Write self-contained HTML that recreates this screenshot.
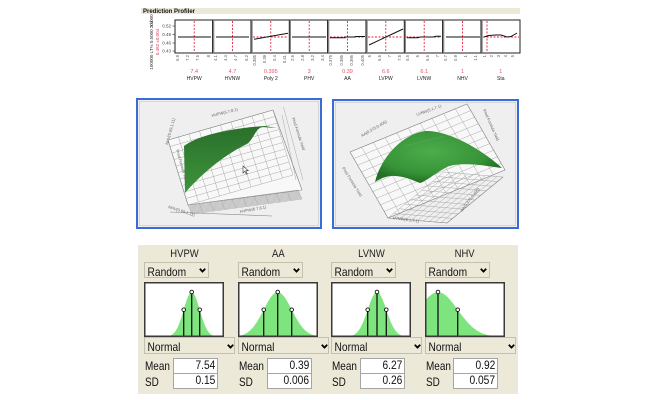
<!DOCTYPE html>
<html><head><meta charset="utf-8">
<style>
body{margin:0;width:668px;height:400px;background:#fff;position:relative;overflow:hidden;font-family:"Liberation Sans",Arial,sans-serif;}
.abs{position:absolute}
.panel{left:138px;top:245px;width:380px;height:149px;background:#ece9d8}
.name{width:80px;text-align:center;top:248px;font-size:11px;color:#222;height:13px;line-height:13px}
.name span{display:inline-block;transform:scaleX(.86)}
.dd{box-sizing:border-box;border:1px solid #c4c0ae;background:#ece9d8;height:16px}
.t{display:inline-block;transform:scaleX(.85);transform-origin:left center;font-size:12px;line-height:14px;color:#111;padding-left:3px}
.chev{position:absolute;top:5px}
.lab{font-size:12px;line-height:14px;color:#111}
.lab span{display:inline-block;transform:scaleX(.83);transform-origin:left center}
.box{box-sizing:border-box;border:1px solid #a5a5a5;background:#fff;width:45px;text-align:right;font-size:12px;line-height:13px;color:#111;padding-right:2px}
.box span{display:inline-block;transform:scaleX(.85);transform-origin:right center}
</style></head>
<body>

<svg class="abs" style="left:0;top:0" width="668" height="240" viewBox="0 0 668 240">
  <defs>
    <path id="gr" d="M0 0V10M1 0V10M2 0V10M3 0V10M4 0V10M5 0V10M6 0V10M7 0V10M8 0V10M9 0V10M10 0V10M0 0H10M0 1H10M0 2H10M0 3H10M0 4H10M0 5H10M0 6H10M0 7H10M0 8H10M0 9H10M0 10H10" fill="none" stroke="#a8a8a8" stroke-width="0.5" vector-effect="non-scaling-stroke"/>
    <linearGradient id="lg" x1="0" y1="0" x2="0" y2="1">
      <stop offset="0" stop-color="#2a6f2a"/><stop offset="1" stop-color="#3d953d"/>
    </linearGradient>
    <radialGradient id="rg" cx="0.45" cy="0.4" r="0.6">
      <stop offset="0" stop-color="#4cad4c"/><stop offset="0.7" stop-color="#379337"/><stop offset="1" stop-color="#236f23"/>
    </radialGradient>
  </defs>

  <!-- Prediction profiler -->
  <rect x="141" y="8" width="379" height="6" fill="#ece9d8"/>
  <text x="143" y="13" font-size="6" font-weight="bold" fill="#111">Prediction Profiler</text>

  <text transform="translate(153,42) rotate(-90)" text-anchor="middle" font-size="4.5" fill="#333">100000 LT% 0.5000 20.000</text>
  <text transform="translate(153,24) rotate(-90)" text-anchor="middle" font-size="4.5" fill="#333">Yld</text>
  <text transform="translate(159,42) rotate(-90)" text-anchor="middle" font-size="4.5" fill="#e0405a">0.482 ±0.004</text>
  <g font-size="4.5" fill="#444" text-anchor="end">
    <text x="171" y="27.5">0.52</text><text x="171" y="36">0.49</text><text x="171" y="44.5">0.46</text><text x="171" y="52.5">0.43</text>
  </g>
  <g stroke="#333" stroke-width="0.6">
    <line x1="172.5" y1="26" x2="175" y2="26"/><line x1="172.5" y1="34.5" x2="175" y2="34.5"/><line x1="172.5" y1="43" x2="175" y2="43"/><line x1="172.5" y1="51" x2="175" y2="51"/>
  </g>

  <rect x="175" y="20" width="345" height="33" fill="#fff" stroke="#222" stroke-width="1"/>
  <g stroke="#888" stroke-width="2">
    <line x1="213.3" y1="20" x2="213.3" y2="53"/><line x1="251.7" y1="20" x2="251.7" y2="53"/>
    <line x1="290" y1="20" x2="290" y2="53"/><line x1="328.3" y1="20" x2="328.3" y2="53"/>
    <line x1="366.7" y1="20" x2="366.7" y2="53"/><line x1="405" y1="20" x2="405" y2="53"/>
    <line x1="443.3" y1="20" x2="443.3" y2="53"/><line x1="481.7" y1="20" x2="481.7" y2="53"/>
  </g>
  <g stroke="#111" stroke-width="0.8">
    <line x1="212.5" y1="20" x2="212.5" y2="53"/><line x1="250.9" y1="20" x2="250.9" y2="53"/>
    <line x1="289.2" y1="20" x2="289.2" y2="53"/><line x1="327.5" y1="20" x2="327.5" y2="53"/>
    <line x1="365.9" y1="20" x2="365.9" y2="53"/><line x1="404.2" y1="20" x2="404.2" y2="53"/>
    <line x1="442.5" y1="20" x2="442.5" y2="53"/><line x1="480.9" y1="20" x2="480.9" y2="53"/>
  </g>
  <!-- red dashed -->
  <g stroke="#e8203a" stroke-width="0.9" stroke-dasharray="2,1.5" fill="none">
    <line x1="194.2" y1="21" x2="194.2" y2="52"/><line x1="232.5" y1="21" x2="232.5" y2="52"/>
    <line x1="270.8" y1="21" x2="270.8" y2="52"/><line x1="309.2" y1="21" x2="309.2" y2="52"/>
    <line x1="347.5" y1="21" x2="347.5" y2="52"/><line x1="385.8" y1="21" x2="385.8" y2="52"/>
    <line x1="424.2" y1="21" x2="424.2" y2="52"/><line x1="462.5" y1="21" x2="462.5" y2="52"/>
    <line x1="487" y1="21" x2="487" y2="52"/>
    <line x1="253" y1="37" x2="288" y2="37"/><line x1="330" y1="37" x2="365" y2="37"/>
    <line x1="368" y1="37" x2="403" y2="37"/><line x1="406" y1="37" x2="441" y2="37"/>
    <line x1="483" y1="37" x2="519" y2="37"/>
  </g>
  <!-- black lines -->
  <g stroke="#111" stroke-width="1" fill="none">
    <line x1="178" y1="37" x2="211" y2="37"/>
    <line x1="216" y1="37" x2="249" y2="37"/>
    <line x1="254" y1="39.3" x2="288" y2="33.3"/>
    <line x1="292" y1="37" x2="326" y2="37"/>
    <polyline points="330,37.7 345,37.7 345,37 354,37 356,36.5 365,36.5"/>
    <line x1="369" y1="45" x2="403" y2="29"/>
    <polyline points="407,37.7 418,37.7 420,37 433,37 436,36.3 441,36.3"/>
    <line x1="446" y1="37" x2="480" y2="37"/>
    <polyline points="484,37 489,35.5 496,35 501,35 507,37 511,36.5 517,33"/>
  </g>
  <!-- tick labels -->
  <g font-size="4.2" fill="#555" text-anchor="end">
    <text transform="translate(179,55) rotate(-90)">6.9</text><text transform="translate(189,55) rotate(-90)">7.2</text><text transform="translate(199,55) rotate(-90)">7.5</text><text transform="translate(210,55) rotate(-90)">8</text>
    <text transform="translate(217,55) rotate(-90)">4.1</text><text transform="translate(227,55) rotate(-90)">4.4</text><text transform="translate(237,55) rotate(-90)">4.7</text><text transform="translate(248,55) rotate(-90)">5.2</text>
    <text transform="translate(256,55) rotate(-90)">0.385</text><text transform="translate(266,55) rotate(-90)">0.39</text><text transform="translate(276,55) rotate(-90)">0.4</text><text transform="translate(286,55) rotate(-90)">0.41</text>
    <text transform="translate(294,55) rotate(-90)">2.6</text><text transform="translate(304,55) rotate(-90)">2.8</text><text transform="translate(314,55) rotate(-90)">3.2</text><text transform="translate(324,55) rotate(-90)">3.4</text>
    <text transform="translate(332,55) rotate(-90)">0.375</text><text transform="translate(343,55) rotate(-90)">0.385</text><text transform="translate(353,55) rotate(-90)">0.395</text><text transform="translate(364,55) rotate(-90)">0.405</text>
    <text transform="translate(371,55) rotate(-90)">6</text><text transform="translate(381,55) rotate(-90)">6.5</text><text transform="translate(391,55) rotate(-90)">7</text><text transform="translate(401,55) rotate(-90)">7.5</text>
    <text transform="translate(409,55) rotate(-90)">5.5</text><text transform="translate(419,55) rotate(-90)">6</text><text transform="translate(429,55) rotate(-90)">6.5</text><text transform="translate(439,55) rotate(-90)">7</text>
    <text transform="translate(447,55) rotate(-90)">0.7</text><text transform="translate(457,55) rotate(-90)">0.9</text><text transform="translate(467,55) rotate(-90)">1</text><text transform="translate(477,55) rotate(-90)">1.1</text>
    <text transform="translate(486,55) rotate(-90)">1</text><text transform="translate(493,55) rotate(-90)">2</text><text transform="translate(500,55) rotate(-90)">3</text><text transform="translate(507,55) rotate(-90)">4</text><text transform="translate(514,55) rotate(-90)">5</text>
  </g>
  <g font-size="5.5" fill="#e8506a" text-anchor="middle">
    <text x="194.2" y="73">7.4</text><text x="232.5" y="73">4.7</text><text x="270.8" y="73">0.395</text><text x="309.2" y="73">3</text><text x="347.5" y="73">0.39</text><text x="385.8" y="73">6.6</text><text x="424.2" y="73">6.1</text><text x="462.5" y="73">1</text><text x="500.8" y="73">1</text>
  </g>
  <g font-size="5" fill="#222" text-anchor="middle">
    <text x="194.2" y="80">HVPW</text><text x="232.5" y="80">HVNW</text><text x="270.8" y="80">Poly 2</text><text x="309.2" y="80">PHV</text><text x="347.5" y="80">AA</text><text x="385.8" y="80">LVPW</text><text x="424.2" y="80">LVNW</text><text x="462.5" y="80">NHV</text><text x="500.8" y="80">Sta</text>
  </g>

  <!-- Left 3D plot -->
  <rect x="137" y="99" width="184" height="129" fill="#efefef" stroke="#3a6cd6" stroke-width="2"/>
  <rect x="139.5" y="101.5" width="179" height="124" fill="none" stroke="#d6d6d6" stroke-width="1"/>
  <polygon points="168,140 273,110 302,190 188,205" fill="#f8f8f8"/>
  <use href="#gr" transform="matrix(10.5,-3,2,6.5,168,140)"/>
  <use href="#gr" transform="matrix(11,-1.5,0.4,0.9,188,205)"/>
  <g stroke="#a8a8a8" stroke-width="0.5" fill="none">
    <line x1="283.5" y1="107" x2="303" y2="180"/>
    <line x1="273" y1="110" x2="302" y2="190"/>
    <line x1="282" y1="115" x2="296" y2="180"/>
  </g>
  <g stroke="#888" stroke-width="0.6" fill="none">
    <line x1="168" y1="140" x2="273" y2="110"/>
    <line x1="273" y1="110" x2="302" y2="190"/>
    <line x1="188" y1="205" x2="302" y2="190"/>
    <line x1="168" y1="140" x2="188" y2="205"/>
    <line x1="170" y1="212" x2="272" y2="216"/>
  </g>
  <path d="M184,146 C200,134 235,128 265,126 L277,128 L262,127 C255,129 254,139 247,144 C228,153 205,170 185,193 Z" fill="url(#lg)"/>
  <g font-size="4" fill="#666">
    <text transform="translate(212,117) rotate(-14)">HVPW(6.7,8.1)</text>
    <text transform="translate(168,145) rotate(-75)">NHV(0.69,1.11)</text>
    <text transform="translate(176,150) rotate(74)">Pred Formula Yield</text>
    <text transform="translate(292,118) rotate(72)">Pred Formula Yield</text>
    <text transform="translate(168,208) rotate(18)">NHV(0.69,1.11)</text>
    <text transform="translate(240,213) rotate(-10)">HVPW(6.7,8.1)</text>
  </g>
  <path d="M243,166 l0,7 l1.8,-1.8 l1.5,3 l1,-0.5 l-1.5,-3 l2.5,0 z" fill="#fff" stroke="#333" stroke-width="0.6"/>

  <!-- Right 3D plot -->
  <rect x="333" y="100" width="185" height="128" fill="#efefef" stroke="#3a6cd6" stroke-width="2"/>
  <rect x="335.5" y="102.5" width="180" height="123" fill="none" stroke="#d6d6d6" stroke-width="1"/>
  <polygon points="350,152 467,104 505,170 388,218" fill="#f8f8f8"/>
  <use href="#gr" transform="matrix(11.7,-4.8,3.8,6.6,350,152)"/>
  <use href="#gr" transform="matrix(5.9,0.5,5.6,-4.6,388,218)"/>
  <g stroke="#888" stroke-width="0.6" fill="none">
    <polygon points="350,152 467,104 505,170 388,218"/>
    <line x1="388" y1="218" x2="447" y2="223"/>
    <line x1="447" y1="223" x2="503" y2="177"/>
  </g>
  <path d="M375,182 C380,160 400,135 425,131 C450,130 485,152 502,168 L487,166 C475,164 455,163 447,167 C437,172 425,182 420,183 C412,180 402,175 390,176 C383,177 378,180 375,182 Z" fill="url(#rg)"/>
  <line x1="405" y1="146" x2="445" y2="136" stroke="#7a9a7a" stroke-width="0.4"/>
  <g font-size="4" fill="#666">
    <text transform="translate(417,116) rotate(-20)">LVNW(5.1,7.1)</text>
    <text transform="translate(362,137) rotate(-30)">AA(0.375,0.405)</text>
    <text transform="translate(342,168) rotate(58)">Pred Formula Yield</text>
    <text transform="translate(483,110) rotate(66)">Pred Formula Yield</text>
    <text transform="translate(393,219) rotate(8)">LVNW(5.1,7.1)</text>
    <text transform="translate(462,212) rotate(-52)">AA(0.375,0.405)</text>
  </g>
</svg>

<!-- Bottom panel -->
<div class="abs panel"></div>

<!-- HVPW -->
<div class="abs name" style="left:144px"><span>HVPW</span></div>
<div class="abs dd" style="left:144px;top:262px;width:65px"><span class="t">Random</span><svg class="chev" style="left:54px" width="7" height="5"><polyline points="0.8,0.8 3.5,3.6 6.2,0.8" fill="none" stroke="#000" stroke-width="1.8"/></svg></div>
<svg class="abs" style="left:144px;top:282px" width="80" height="55">
  <rect x="0" y="0" width="80" height="55" fill="#fff"/>
  <polygon transform="translate(47.7,0) scale(8,1)" fill="#7ee47e" points="-3.5,55 -3,54.5 -2.5,53 -2.25,51.4 -2,48.9 -1.75,45.3 -1.5,40.4 -1.25,34.4 -1,27.7 -0.75,21 -0.5,15.3 -0.25,11.4 0,10 0.25,11.4 0.5,15.3 0.75,21 1,27.7 1.25,34.4 1.5,40.4 1.75,45.3 2,48.9 2.25,51.4 2.5,53 3,54.5 3.5,55"/>
  <g stroke="#111" stroke-width="1.3"><line x1="47.7" y1="10" x2="47.7" y2="55"/><line x1="39.7" y1="27.7" x2="39.7" y2="55"/><line x1="55.7" y1="27.7" x2="55.7" y2="55"/></g>
  <g fill="#fff" stroke="#111" stroke-width="0.9"><circle cx="47.7" cy="10" r="1.8"/><circle cx="39.7" cy="27.7" r="1.8"/><circle cx="55.7" cy="27.7" r="1.8"/></g>
  <rect x="0.75" y="0.75" width="78.5" height="53.5" fill="none" stroke="#3a3a3a" stroke-width="1.5"/>
</svg>
<div class="abs dd" style="left:144px;top:337px;width:91px;height:17px"><span class="t">Normal</span><svg class="chev" style="left:82px;top:6px" width="7" height="5"><polyline points="0.8,0.8 3.5,3.6 6.2,0.8" fill="none" stroke="#000" stroke-width="1.8"/></svg></div>
<div class="abs lab" style="left:145px;top:359px"><span>Mean</span></div>
<div class="abs box" style="left:173px;top:358px;height:16px"><span>7.54</span></div>
<div class="abs lab" style="left:145px;top:375px"><span>SD</span></div>
<div class="abs box" style="left:173px;top:373px;height:16px"><span>0.15</span></div>

<!-- AA -->
<div class="abs name" style="left:238px"><span>AA</span></div>
<div class="abs dd" style="left:238px;top:262px;width:65px"><span class="t">Random</span><svg class="chev" style="left:54px" width="7" height="5"><polyline points="0.8,0.8 3.5,3.6 6.2,0.8" fill="none" stroke="#000" stroke-width="1.8"/></svg></div>
<svg class="abs" style="left:238px;top:282px" width="80" height="55">
  <rect x="0" y="0" width="80" height="55" fill="#fff"/>
  <polygon transform="translate(39.7,0) scale(14,1)" fill="#7ee47e" points="-3.5,55 -3,54.5 -2.5,53 -2.25,51.4 -2,48.9 -1.75,45.3 -1.5,40.4 -1.25,34.4 -1,27.7 -0.75,21 -0.5,15.3 -0.25,11.4 0,10 0.25,11.4 0.5,15.3 0.75,21 1,27.7 1.25,34.4 1.5,40.4 1.75,45.3 2,48.9 2.25,51.4 2.5,53 3,54.5 3.5,55"/>
  <g stroke="#111" stroke-width="1.3"><line x1="39.7" y1="10" x2="39.7" y2="55"/><line x1="25.7" y1="27.7" x2="25.7" y2="55"/><line x1="53.7" y1="27.7" x2="53.7" y2="55"/></g>
  <g fill="#fff" stroke="#111" stroke-width="0.9"><circle cx="39.7" cy="10" r="1.8"/><circle cx="25.7" cy="27.7" r="1.8"/><circle cx="53.7" cy="27.7" r="1.8"/></g>
  <rect x="0.75" y="0.75" width="78.5" height="53.5" fill="none" stroke="#3a3a3a" stroke-width="1.5"/>
</svg>
<div class="abs dd" style="left:238px;top:337px;width:91px;height:17px"><span class="t">Normal</span><svg class="chev" style="left:82px;top:6px" width="7" height="5"><polyline points="0.8,0.8 3.5,3.6 6.2,0.8" fill="none" stroke="#000" stroke-width="1.8"/></svg></div>
<div class="abs lab" style="left:239px;top:359px"><span>Mean</span></div>
<div class="abs box" style="left:267px;top:358px;height:16px"><span>0.39</span></div>
<div class="abs lab" style="left:239px;top:375px"><span>SD</span></div>
<div class="abs box" style="left:267px;top:373px;height:16px"><span>0.006</span></div>

<!-- LVNW -->
<div class="abs name" style="left:331px"><span>LVNW</span></div>
<div class="abs dd" style="left:331px;top:262px;width:65px"><span class="t">Random</span><svg class="chev" style="left:54px" width="7" height="5"><polyline points="0.8,0.8 3.5,3.6 6.2,0.8" fill="none" stroke="#000" stroke-width="1.8"/></svg></div>
<svg class="abs" style="left:331px;top:282px" width="80" height="55">
  <rect x="0" y="0" width="80" height="55" fill="#fff"/>
  <polygon transform="translate(46,0) scale(9.3,1)" fill="#7ee47e" points="-3.5,55 -3,54.5 -2.5,53 -2.25,51.4 -2,48.9 -1.75,45.3 -1.5,40.4 -1.25,34.4 -1,27.7 -0.75,21 -0.5,15.3 -0.25,11.4 0,10 0.25,11.4 0.5,15.3 0.75,21 1,27.7 1.25,34.4 1.5,40.4 1.75,45.3 2,48.9 2.25,51.4 2.5,53 3,54.5 3.5,55"/>
  <g stroke="#111" stroke-width="1.3"><line x1="46" y1="10" x2="46" y2="55"/><line x1="36.7" y1="27.7" x2="36.7" y2="55"/><line x1="55.3" y1="27.7" x2="55.3" y2="55"/></g>
  <g fill="#fff" stroke="#111" stroke-width="0.9"><circle cx="46" cy="10" r="1.8"/><circle cx="36.7" cy="27.7" r="1.8"/><circle cx="55.3" cy="27.7" r="1.8"/></g>
  <rect x="0.75" y="0.75" width="78.5" height="53.5" fill="none" stroke="#3a3a3a" stroke-width="1.5"/>
</svg>
<div class="abs dd" style="left:331px;top:337px;width:91px;height:17px"><span class="t">Normal</span><svg class="chev" style="left:82px;top:6px" width="7" height="5"><polyline points="0.8,0.8 3.5,3.6 6.2,0.8" fill="none" stroke="#000" stroke-width="1.8"/></svg></div>
<div class="abs lab" style="left:332px;top:359px"><span>Mean</span></div>
<div class="abs box" style="left:360px;top:358px;height:16px"><span>6.27</span></div>
<div class="abs lab" style="left:332px;top:375px"><span>SD</span></div>
<div class="abs box" style="left:360px;top:373px;height:16px"><span>0.26</span></div>

<!-- NHV -->
<div class="abs name" style="left:425px"><span>NHV</span></div>
<div class="abs dd" style="left:425px;top:262px;width:65px"><span class="t">Random</span><svg class="chev" style="left:54px" width="7" height="5"><polyline points="0.8,0.8 3.5,3.6 6.2,0.8" fill="none" stroke="#000" stroke-width="1.8"/></svg></div>
<svg class="abs" style="left:425px;top:282px" width="80" height="55">
  <rect x="0" y="0" width="80" height="55" fill="#fff"/>
  <polygon transform="translate(13,0) scale(19.7,1)" fill="#7ee47e" points="-3.5,55 -3,54.5 -2.5,53 -2.25,51.4 -2,48.9 -1.75,45.3 -1.5,40.4 -1.25,34.4 -1,27.7 -0.75,21 -0.5,15.3 -0.25,11.4 0,10 0.25,11.4 0.5,15.3 0.75,21 1,27.7 1.25,34.4 1.5,40.4 1.75,45.3 2,48.9 2.25,51.4 2.5,53 3,54.5 3.5,55"/>
  <g stroke="#111" stroke-width="1.3"><line x1="13" y1="10" x2="13" y2="55"/><line x1="32.7" y1="27.7" x2="32.7" y2="55"/></g>
  <g fill="#fff" stroke="#111" stroke-width="0.9"><circle cx="13" cy="10" r="1.8"/><circle cx="32.7" cy="27.7" r="1.8"/></g>
  <rect x="0.75" y="0.75" width="78.5" height="53.5" fill="none" stroke="#3a3a3a" stroke-width="1.5"/>
</svg>
<div class="abs dd" style="left:425px;top:337px;width:91px;height:17px"><span class="t">Normal</span><svg class="chev" style="left:82px;top:6px" width="7" height="5"><polyline points="0.8,0.8 3.5,3.6 6.2,0.8" fill="none" stroke="#000" stroke-width="1.8"/></svg></div>
<div class="abs lab" style="left:426px;top:359px"><span>Mean</span></div>
<div class="abs box" style="left:453px;top:358px;height:16px"><span>0.92</span></div>
<div class="abs lab" style="left:426px;top:375px"><span>SD</span></div>
<div class="abs box" style="left:453px;top:373px;height:16px"><span>0.057</span></div>

</body></html>
